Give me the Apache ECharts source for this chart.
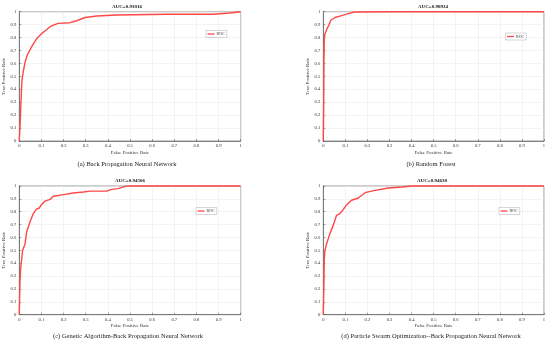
<!DOCTYPE html>
<html>
<head>
<meta charset="utf-8">
<script src="https://cdn.jsdelivr.net/npm/echarts@6/dist/echarts.min.js"></script>
<style>html,body{margin:0;padding:0;background:#fff}#c{width:550px;height:345px}</style>
</head>
<body>
<div id="c"></div>
<script>
const tickValues = [0,0.1,0.2,0.3,0.4,0.5,0.6,0.7,0.8,0.9,1];
const aucTitles = ["AUC=0.93016","AUC=0.98934","AUC=0.94506","AUC=0.94638"];
const captions = ["(a) Back Propagation Neural Network","(b) Random Forest","(c) Genetic Algorithm-Back Propagation Neural Network","(d) Particle Swarm Optimization--Back Propagation Neural Network"];
const seriesName = "ROC";
const xAxisName = "False Positive Rate";
const yAxisName = "True Positive Rate";

const fprA = [0,0.004,0.008,0.012,0.018,0.026,0.036,0.056,0.078,0.10,0.123,0.139,0.16,0.176,0.229,0.259,0.297,0.35,0.44,0.666,0.877,0.95,1.0];
const tprA = [0,0.15,0.317,0.47,0.536,0.61,0.665,0.73,0.79,0.83,0.86,0.884,0.90,0.91,0.915,0.93,0.955,0.967,0.975,0.98,0.98,0.99,1.0];

const fprB = [0,0.002,0.003,0.0045,0.0075,0.015,0.026,0.035,0.053,0.075,0.098,0.113,0.121,0.143,0.3,1.0];
const tprB = [0,0.3,0.61,0.79,0.83,0.86,0.9,0.936,0.955,0.966,0.977,0.985,0.995,0.998,1.0,1.0];

const fprC = [0,0.003,0.006,0.011,0.015,0.026,0.033,0.048,0.063,0.078,0.09,0.10,0.116,0.139,0.154,0.199,0.244,0.289,0.32,0.395,0.417,0.447,0.477,0.5,1.0];
const tprC = [0,0.254,0.357,0.435,0.5,0.55,0.642,0.72,0.785,0.82,0.829,0.855,0.883,0.896,0.92,0.933,0.946,0.953,0.96,0.96,0.974,0.98,0.997,1.0,1.0];

const fprD = [0,0.003,0.0045,0.0075,0.015,0.03,0.045,0.06,0.075,0.09,0.106,0.128,0.159,0.189,0.234,0.295,0.355,0.40,1.0];
const tprD = [0,0.254,0.435,0.5,0.552,0.63,0.694,0.772,0.785,0.816,0.855,0.889,0.907,0.948,0.966,0.984,0.992,1.0,1.0];

const curves = [[fprA,tprA],[fprB,tprB],[fprC,tprC],[fprD,tprD]];

const FONT = "Liberation Serif";
const grids = [
  {left:19.3, top:11.7, width:221.4, height:129.3},
  {left:323.3, top:11.7, width:220.7, height:129.3},
  {left:19.3, top:186, width:221.4, height:128.7},
  {left:323.3, top:186, width:220.7, height:128.7}
];
const xNameGaps = [9.5, 9.5, 8, 8];
const legendPos = [{left:206,top:30.5},{left:505.5,top:33},{left:196,top:207.5},{left:499,top:207.5}];
const titlePos = [{x:127,y:7},{x:433,y:7},{x:130,y:181},{x:432,y:181}];
const capPos = [{x:127,y:164},{x:431,y:164},{x:128,y:336.5},{x:431,y:336.5}];

function axisCommon(i, isX) {
  return {
    type:'value', gridIndex:i, min:0, max:1, interval:0.1,
    name: isX ? xAxisName : yAxisName,
    nameLocation:'middle', nameGap: isX ? xNameGaps[i] : 12,
    nameTextStyle:{fontFamily:FONT, fontSize:5, color:'#333'},
    axisLine:{show:true, onZero:false, lineStyle:{color:'#444', width:0.6}},
    axisTick:{show:true, inside:true, length:2, lineStyle:{color:'#444', width:0.5}},
    axisLabel:{fontFamily:FONT, fontSize:4.6, color:'#333', margin: isX ? 2.5 : 3,
      formatter: v => String(Math.round(v*10)/10)},
    splitLine:{show:true, lineStyle:{color:'#e6e6e6', width:0.5}}
  };
}

const option = {
  animation:false,
  backgroundColor:'#fff',
  grid: grids.map(g => Object.assign({show:true, borderColor:'#555', borderWidth:0.6, backgroundColor:'#fff'}, g)),
  xAxis: grids.map((g,i) => axisCommon(i,true)),
  yAxis: grids.map((g,i) => axisCommon(i,false)),
  legend: legendPos.map(p => ({
    left:p.left, top:p.top, orient:'vertical',
    data:[{name:seriesName, icon:'rect'}],
    itemWidth:7, itemHeight:1.3, itemGap:0,
    padding:[1.5,2,1.5,1.5], borderColor:'#aaa', borderWidth:0.5, backgroundColor:'#fff',
    textStyle:{fontFamily:FONT, fontSize:4, color:'#333', padding:[0,0,0,-3]}
  })),
  series: curves.map((c,i) => ({
    name:seriesName, type:'line', xAxisIndex:i, yAxisIndex:i,
    showSymbol:false, symbol:'none', clip:false,
    lineStyle:{color:'#ff4848', width:1.4},
    itemStyle:{color:'#ff4848'},
    data: c[0].map((x,k) => [x, c[1][k]])
  })),
  graphic: [
    ...titlePos.map((p,i) => ({type:'text', x:p.x, y:p.y, style:{text:aucTitles[i], font:'bold 5px "Liberation Serif"', fill:'#111', textAlign:'center', textVerticalAlign:'middle'}})),
    ...capPos.map((p,i) => ({type:'text', x:p.x, y:p.y, style:{text:captions[i], font:'6.5px "Liberation Serif"', fill:'#222', textAlign:'center', textVerticalAlign:'middle'}}))
  ]
};

const chart = echarts.init(document.getElementById('c'), null, {renderer:'canvas'});
chart.setOption(option);
</script>
</body>
</html>
